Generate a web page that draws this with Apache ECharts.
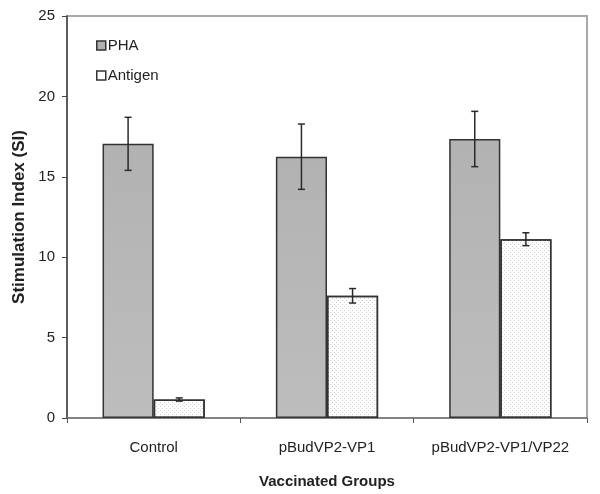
<!DOCTYPE html>
<html><head><meta charset="utf-8">
<script src="https://cdn.jsdelivr.net/npm/echarts@6/dist/echarts.min.js"></script>
<style>html,body{margin:0;padding:0;background:#fff}#c{width:600px;height:494px}</style>
</head><body><div id="c"></div>
<script>
var categories = ['Control', 'pBudVP2-VP1', 'pBudVP2-VP1/VP22'];
var seriesNames = ['PHA', 'Antigen'];
var phaValues = [17.05, 16.25, 17.35];
var phaErrors = [1.65, 2.03, 1.72];
var antigenValues = [1.15, 7.6, 11.12];
var antigenErrors = [0.1, 0.45, 0.4];
var yTicks = [0, 5, 10, 15, 20, 25];

var FONT = '"Liberation Sans", Arial, sans-serif';
var catGap = 0.41;

function errSeries(vals, errs, sideSign) {
  var data = vals.map(function (v, i) { return [i, v - errs[i], v + errs[i]]; });
  return {
    type: 'custom', silent: true, z: 10,
    data: data,
    renderItem: function (params, api) {
      var i = api.value(0);
      var bw = api.size([1, 0])[0] * (1 - catGap) / 2;
      var lo = api.coord([i, api.value(1)]);
      var hi = api.coord([i, api.value(2)]);
      var x = lo[0] + sideSign * bw / 2;
      var cw = 3.5;
      var st = { stroke: '#2a2a2a', lineWidth: 1.5 };
      return { type: 'group', children: [
        { type: 'line', shape: { x1: x, y1: lo[1], x2: x, y2: hi[1] }, style: st },
        { type: 'line', shape: { x1: x - cw, y1: lo[1], x2: x + cw, y2: lo[1] }, style: st },
        { type: 'line', shape: { x1: x - cw, y1: hi[1], x2: x + cw, y2: hi[1] }, style: st }
      ]};
    }
  };
}

var chart = echarts.init(document.getElementById('c'), null, { renderer: 'canvas' });
chart.setOption({
  animation: false,
  textStyle: { fontFamily: FONT },
  grid: { left: 67, right: 13, top: 16, bottom: 73, show: true, borderColor: '#a8a8a8', borderWidth: 2, backgroundColor: 'transparent' },
  legend: {
    orient: 'vertical', left: 91, top: 33, itemWidth: 9, itemHeight: 9, itemGap: 15,
    icon: 'rect',
    textStyle: { fontSize: 15, color: '#222', fontFamily: FONT, padding: [0, 0, 0, -3] },
    data: [
      { name: seriesNames[0], itemStyle: { color: '#b0b0b0', borderColor: '#333', borderWidth: 1.5 } },
      { name: seriesNames[1], itemStyle: { color: '#fff', borderColor: '#333', borderWidth: 1.5, decal: 'none' } }
    ]
  },
  xAxis: {
    type: 'category', data: categories,
    name: 'Vaccinated Groups', nameLocation: 'middle', nameGap: 56,
    nameTextStyle: { fontSize: 15, fontWeight: 'bold', color: '#222', fontFamily: FONT },
    axisLine: { lineStyle: { color: '#777', width: 1.5 } },
    axisTick: { show: true, length: 5, inside: false, interval: 0, lineStyle: { color: '#555' } },
    axisLabel: { fontSize: 15, color: '#222', margin: 22, interval: 0, hideOverlap: false, fontFamily: FONT },
    splitLine: { show: false }
  },
  yAxis: {
    type: 'value', min: 0, max: 25, interval: 5,
    name: 'Stimulation Index (SI)', nameLocation: 'middle', nameGap: 38, nameRotate: 90,
    nameTextStyle: { fontSize: 17, fontWeight: 'bold', color: '#222', fontFamily: FONT },
    axisLine: { show: true, lineStyle: { color: '#444', width: 1.5 } },
    axisTick: { show: true, length: 5, lineStyle: { color: '#444' } },
    axisLabel: { fontSize: 15, color: '#222', margin: 12, fontFamily: FONT,
      formatter: function (v) { return yTicks.indexOf(v) >= 0 ? String(v) : ''; } },
    splitLine: { show: false }
  },
  series: [
    { name: seriesNames[0], type: 'bar', data: phaValues, barGap: '0%', barCategoryGap: (catGap * 100) + '%',
      itemStyle: { color: new echarts.graphic.LinearGradient(0, 0, 0, 1, [{ offset: 0, color: '#b2b2b2' }, { offset: 1, color: '#bdbdbd' }]),
        borderColor: '#333', borderWidth: 1.5 } },
    { name: seriesNames[1], type: 'bar', data: antigenValues, barGap: '0%', barCategoryGap: (catGap * 100) + '%',
      itemStyle: { color: '#ffffff', borderColor: '#333', borderWidth: 1.5,
        decal: { symbol: 'rect', symbolSize: 1, dashArrayX: [[1, 3], [0, 2, 1, 1]], dashArrayY: [1, 1], color: '#d2d2d2' } } },
    errSeries(phaValues, phaErrors, -1),
    errSeries(antigenValues, antigenErrors, 1)
  ]
});
</script>
</body></html>
